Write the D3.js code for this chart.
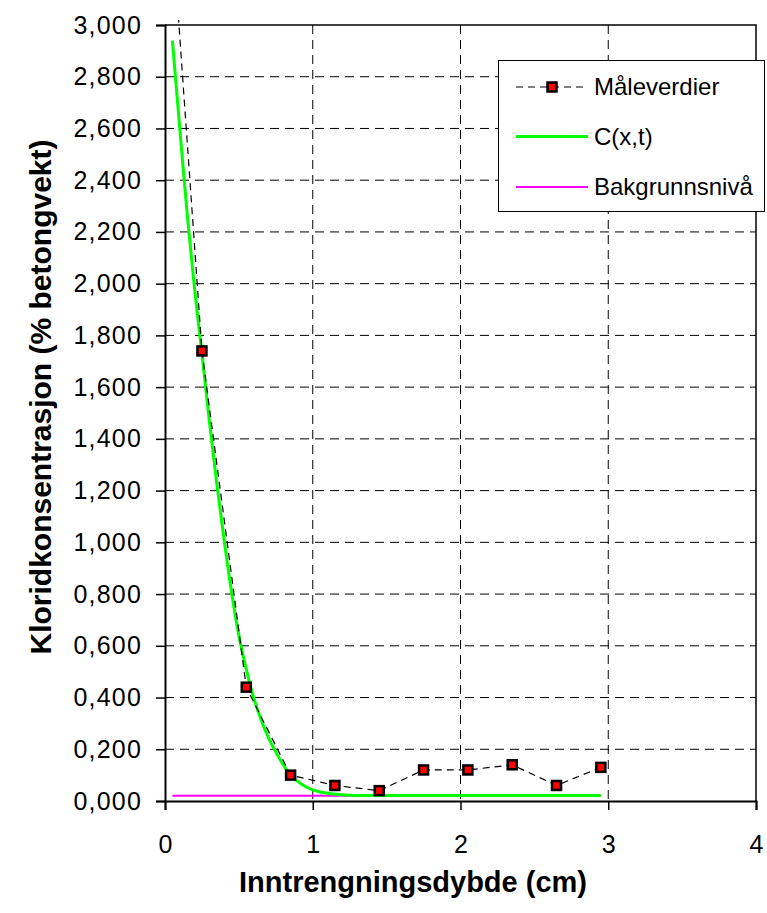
<!DOCTYPE html>
<html>
<head>
<meta charset="utf-8">
<script src="https://cdn.jsdelivr.net/npm/d3@7"></script>
<style>
  html, body { margin: 0; padding: 0; background: #fff; }
  svg { display: block; font-family: "Liberation Sans", Arial, sans-serif; }
</style>
</head>
<body>
<svg id="chart" width="767" height="913"></svg>
<script>
// Measured chloride profile: depth (cm) and concentration (% of concrete weight)
const measuredDepth = [0.05, 0.25, 0.55, 0.85, 1.15, 1.45, 1.75, 2.05, 2.35, 2.65, 2.95];
const measuredValue = [3.36, 1.74, 0.44, 0.10, 0.06, 0.04, 0.12, 0.12, 0.14, 0.06, 0.13];

// Fitted profile C(x,t)
const fitDepth = [0.05, 0.10, 0.15, 0.20, 0.25, 0.30, 0.35, 0.40, 0.45, 0.50, 0.55, 0.60,
                  0.65, 0.70, 0.75, 0.80, 0.85, 0.90, 0.95, 1.00, 1.10, 1.20, 1.30, 1.50, 2.00, 2.50, 2.95];
const fitValue = [2.94, 2.60, 2.27, 1.98, 1.73, 1.47, 1.23, 1.01, 0.81, 0.64, 0.51, 0.40,
                  0.315, 0.245, 0.19, 0.14, 0.10, 0.075, 0.056, 0.043, 0.030, 0.024, 0.021, 0.021, 0.021, 0.021, 0.021];

// Background level
const backgroundDepth = [0.05, 2.95];
const backgroundValue = [0.02, 0.02];

const xTicks = [0, 1, 2, 3, 4];
const yTicks = [0, 0.2, 0.4, 0.6, 0.8, 1.0, 1.2, 1.4, 1.6, 1.8, 2.0, 2.2, 2.4, 2.6, 2.8, 3.0];

const seriesNames = ["Måleverdier", "C(x,t)", "Bakgrunnsnivå"];
const xTitle = "Inntrengningsdybde (cm)";
const yTitle = "Kloridkonsentrasjon (% betongvekt)";

const svg = d3.select("#chart");
const plot = { left: 165, right: 756, top: 25, bottom: 801 };

const x = d3.scaleLinear().domain([0, 4]).range([plot.left, plot.right]);
const y = d3.scaleLinear().domain([0, 3]).range([plot.bottom, plot.top]);

const nbLocale = d3.formatLocale({ decimal: ",", thousands: ".", grouping: [3], currency: ["", " kr"] });
const fmt = nbLocale.format(".3f");

// Gridlines
const grid = svg.append("g");
grid.selectAll("line.h").data(yTicks.filter(v => v > 0 && v < 3)).join("line")
  .attr("x1", plot.left).attr("x2", plot.right)
  .attr("y1", d => y(d)).attr("y2", d => y(d))
  .attr("stroke", "#000").attr("stroke-width", 1).attr("stroke-dasharray", "9,6");
grid.selectAll("line.v").data(xTicks.filter(v => v > 0 && v < 4)).join("line")
  .attr("y1", plot.top).attr("y2", plot.bottom)
  .attr("x1", d => x(d)).attr("x2", d => x(d))
  .attr("stroke", "#000").attr("stroke-width", 1).attr("stroke-dasharray", "9,6");

// Plot frame (top and right)
svg.append("path")
  .attr("d", `M${plot.left},${plot.top}H${plot.right}V${plot.bottom}`)
  .attr("fill", "none").attr("stroke", "#000").attr("stroke-width", 1.5);

// Axes
const yAxis = svg.append("g").attr("transform", `translate(${plot.left},0)`)
  .call(d3.axisLeft(y).tickValues(yTicks).tickFormat(fmt).tickSize(9).tickPadding(14));
const xAxis = svg.append("g").attr("transform", `translate(0,${plot.bottom})`)
  .call(d3.axisBottom(x).tickValues(xTicks).tickFormat(d3.format("d")).tickSize(9).tickPadding(25));
[xAxis, yAxis].forEach(a => {
  a.select(".domain").attr("stroke", "#000").attr("stroke-width", 2);
  a.selectAll(".tick line").attr("stroke", "#000").attr("stroke-width", 1.5);
  a.selectAll(".tick text").attr("fill", "#000").style("font-size", "25px")
    .style("font-family", "'Liberation Sans', Arial, sans-serif");
});
yAxis.selectAll(".tick text").attr("letter-spacing", "1.2px");

// Clip for the series (allows the steep measured line to run just past the top)
svg.append("clipPath").attr("id", "clip").append("rect")
  .attr("x", plot.left).attr("y", plot.top - 5)
  .attr("width", plot.right - plot.left).attr("height", plot.bottom - plot.top + 5);

const series = svg.append("g").attr("clip-path", "url(#clip)");

const measured = measuredDepth.map((d, i) => [d, measuredValue[i]]);
const fit = fitDepth.map((d, i) => [d, fitValue[i]]);
const background = backgroundDepth.map((d, i) => [d, backgroundValue[i]]);

const lineLinear = d3.line().x(d => x(d[0])).y(d => y(d[1]));
const lineSmooth = d3.line().x(d => x(d[0])).y(d => y(d[1])).curve(d3.curveMonotoneX);

series.append("path").datum(background).attr("d", lineLinear)
  .attr("fill", "none").attr("stroke", "#ff00ff").attr("stroke-width", 2);

series.append("path").datum(fit).attr("d", lineSmooth)
  .attr("fill", "none").attr("stroke", "#00ff00").attr("stroke-width", 3);

series.append("path").datum(measured).attr("d", lineLinear)
  .attr("fill", "none").attr("stroke", "#000").attr("stroke-width", 1.2).attr("stroke-dasharray", "7,5");

series.selectAll("rect.marker").data(measured.filter(d => d[1] <= 3)).join("rect")
  .attr("class", "marker")
  .attr("x", d => x(d[0]) - 4.5).attr("y", d => y(d[1]) - 4.5)
  .attr("width", 9).attr("height", 9)
  .attr("fill", "#ff0000").attr("stroke", "#000").attr("stroke-width", 2.5);

// Legend
const legend = svg.append("g");
legend.append("rect").attr("x", 498.5).attr("y", 60.5).attr("width", 266).attr("height", 151)
  .attr("fill", "#fff").attr("stroke", "#000").attr("stroke-width", 1);
const legY = [87, 136.5, 187];
const legStyles = [
  { stroke: "#000", width: 1.2, dash: "7,5" },
  { stroke: "#00ff00", width: 3, dash: null },
  { stroke: "#ff00ff", width: 2, dash: null }
];
seriesNames.forEach((name, i) => {
  legend.append("line").attr("x1", 516).attr("x2", 588).attr("y1", legY[i]).attr("y2", legY[i])
    .attr("stroke", legStyles[i].stroke).attr("stroke-width", legStyles[i].width)
    .attr("stroke-dasharray", legStyles[i].dash);
  if (i === 0) {
    legend.append("rect").attr("x", 552 - 4.5).attr("y", legY[i] - 4.5).attr("width", 9).attr("height", 9)
      .attr("fill", "#ff0000").attr("stroke", "#000").attr("stroke-width", 2.5);
  }
  legend.append("text").attr("x", 594).attr("y", legY[i]).attr("dy", "0.35em")
    .style("font-size", "24px").attr("fill", "#000").text(name);
});

// Axis titles
svg.append("text").attr("x", 413).attr("y", 892).attr("text-anchor", "middle")
  .style("font-size", "29px").style("font-weight", "bold").attr("fill", "#000").text(xTitle);
svg.append("text").attr("transform", "translate(51,397) rotate(-90)").attr("text-anchor", "middle")
  .style("font-size", "30px").style("font-weight", "bold").attr("fill", "#000").text(yTitle);
</script>
</body>
</html>
